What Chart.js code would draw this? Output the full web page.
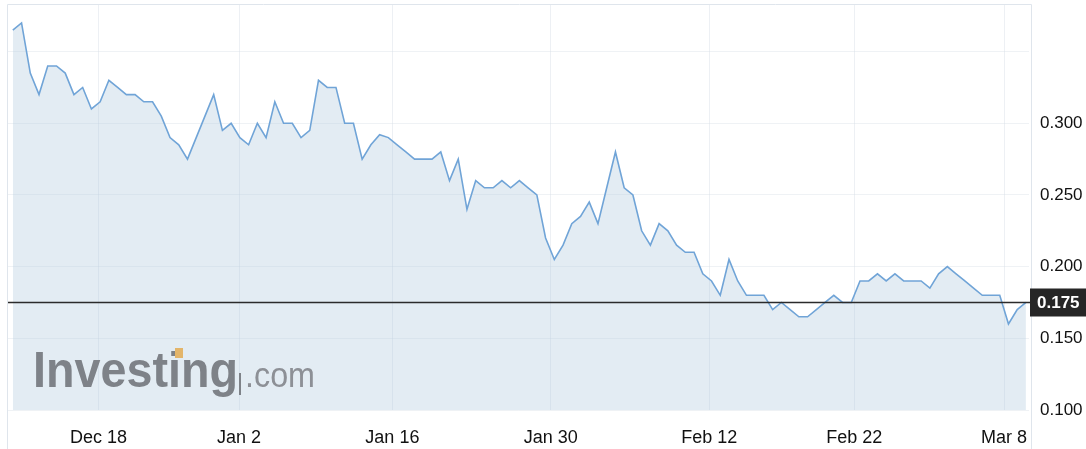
<!DOCTYPE html>
<html>
<head>
<meta charset="utf-8">
<script src="https://cdn.jsdelivr.net/npm/chart.js@4.4.1/dist/chart.umd.min.js"></script>
<style>
  html, body { margin: 0; padding: 0; background: #fff; }
  #wrap { width: 1086px; height: 449px; }
</style>
</head>
<body>
<div id="wrap"><canvas id="price-chart" width="1086" height="449"></canvas></div>
<script>
// closing prices, one per bar
const prices = [
    0.365, 0.370, 0.335, 0.320, 0.340, 0.340, 0.335, 0.320, 0.325, 0.310,
    0.315, 0.330, 0.325, 0.320, 0.320, 0.315, 0.315, 0.305, 0.290, 0.285,
    0.275, 0.290, 0.305, 0.320, 0.295, 0.300, 0.290, 0.285, 0.300, 0.290,
    0.315, 0.300, 0.300, 0.290, 0.295, 0.330, 0.325, 0.325, 0.300, 0.300,
    0.275, 0.285, 0.292, 0.290, 0.285, 0.280, 0.275, 0.275, 0.275, 0.280,
    0.260, 0.275, 0.240, 0.260, 0.255, 0.255, 0.260, 0.255, 0.260, 0.255,
    0.250, 0.220, 0.205, 0.215, 0.230, 0.235, 0.245, 0.230, 0.255, 0.280,
    0.255, 0.250, 0.225, 0.215, 0.230, 0.225, 0.215, 0.210, 0.210, 0.195,
    0.190, 0.180, 0.205, 0.190, 0.180, 0.180, 0.180, 0.170, 0.175, 0.170,
    0.165, 0.165, 0.170, 0.175, 0.180, 0.175, 0.175, 0.190, 0.190, 0.195,
    0.190, 0.195, 0.190, 0.190, 0.190, 0.185, 0.195, 0.200, 0.195, 0.190,
    0.185, 0.180, 0.180, 0.180, 0.160, 0.170, 0.175
];

// date ticks, placed by bar index
const dateTickIndex = [9.8, 25.9, 43.46, 61.59, 79.75, 96.35, 113.5];
const dateTickLabels = ['Dec 18', 'Jan 2', 'Jan 16', 'Jan 30', 'Feb 12', 'Feb 22', 'Mar 8'];

const priceTicks = [0.10, 0.15, 0.20, 0.25, 0.30, 0.35];
const lastPrice = 0.175;

const FONT = '"Liberation Sans", Arial, Helvetica, sans-serif';

const frame = {
    id: 'frame',
    beforeDraw(chart) {
        const { ctx, chartArea: ca } = chart;
        ctx.save();
        ctx.strokeStyle = '#dfe5ec';
        ctx.lineWidth = 1;
        ctx.beginPath();
        ctx.moveTo(ca.left - 0.5, chart.height);
        ctx.lineTo(ca.left - 0.5, ca.top - 0.5);
        ctx.lineTo(ca.right + 2.5, ca.top - 0.5);
        ctx.lineTo(ca.right + 2.5, chart.height);
        ctx.stroke();
        ctx.restore();
    }
};

const watermark = {
    id: 'watermark',
    afterDatasetsDraw(chart) {
        const { ctx, chartArea: ca } = chart;
        const x0 = ca.left + 25;
        const base = ca.bottom - 23;
        ctx.save();
        ctx.textBaseline = 'alphabetic';
        ctx.textAlign = 'left';
        ctx.fillStyle = '#7e8288';
        ctx.font = 'bold 50px ' + FONT;
        ctx.fillText('Investing', x0, base, 205);
        ctx.fillRect(x0 + 206, base - 14, 2, 22);
        ctx.fillStyle = '#e3b56a';
        ctx.fillRect(x0 + 142, base - 39, 8, 10);
        ctx.fillStyle = '#8d9096';
        ctx.font = '35px ' + FONT;
        ctx.fillText('.com', x0 + 212, base, 70);
        ctx.restore();
    }
};

const lastPriceMarker = {
    id: 'lastPriceMarker',
    afterDraw(chart) {
        const { ctx, chartArea: ca } = chart;
        const y = Math.round(chart.scales.y.getPixelForValue(lastPrice)) + 0.5;
        ctx.save();
        ctx.strokeStyle = '#2b2b2b';
        ctx.lineWidth = 1.5;
        ctx.beginPath();
        ctx.moveTo(ca.left, y);
        ctx.lineTo(ca.right + 2, y);
        ctx.stroke();
        ctx.fillStyle = '#262626';
        ctx.fillRect(ca.right + 1, y - 14, chart.width - ca.right, 28);
        ctx.fillStyle = '#fff';
        ctx.font = 'bold 17px ' + FONT;
        ctx.textBaseline = 'middle';
        ctx.fillText(lastPrice.toFixed(3), ca.right + 8, y + 1);
        ctx.restore();
    }
};

new Chart(document.getElementById('price-chart').getContext('2d'), {
    type: 'line',
    plugins: [frame, watermark, lastPriceMarker],
    data: {
        datasets: [{
            data: prices.map((p, i) => ({ x: i, y: p })),
            borderColor: '#70a4d7',
            borderWidth: 1.6,
            backgroundColor: 'rgba(175, 200, 222, 0.35)',
            fill: 'start',
            pointRadius: 0,
            tension: 0
        }]
    },
    options: {
        responsive: false,
        devicePixelRatio: 1,
        animation: false,
        layout: { padding: { left: 8, top: 5, right: 0, bottom: 0 } },
        plugins: {
            legend: { display: false },
            title: { display: false },
            tooltip: { enabled: false }
        },
        scales: {
            x: {
                type: 'linear',
                min: -0.55,
                max: 116.35,
                afterBuildTicks: scale => {
                    scale.ticks = dateTickIndex.map(v => ({ value: v }));
                },
                afterFit: scale => {
                    scale.height = 39;
                    scale.paddingLeft = 0;
                    scale.paddingRight = 0;
                },
                border: { display: false },
                grid: { color: 'rgba(210, 218, 228, 0.4)', drawTicks: false },
                ticks: {
                    autoSkip: false,
                    maxRotation: 0,
                    padding: 17,
                    color: '#111',
                    font: { family: FONT, size: 18 },
                    callback: (value, index) => dateTickLabels[index]
                }
            },
            y: {
                position: 'right',
                min: 0.1,
                max: 0.3825,
                afterBuildTicks: scale => {
                    scale.ticks = priceTicks.map(v => ({ value: v }));
                },
                afterFit: scale => {
                    scale.width = 57;
                    scale.paddingTop = 0;
                    scale.paddingBottom = 0;
                },
                border: { display: false },
                grid: { color: 'rgba(215, 222, 230, 0.4)', drawTicks: false },
                ticks: {
                    padding: 11,
                    color: '#111',
                    font: { family: FONT, size: 17 },
                    callback: value => value > 0.34 ? '' : value.toFixed(3)
                }
            }
        }
    }
});
</script>
</body>
</html>
